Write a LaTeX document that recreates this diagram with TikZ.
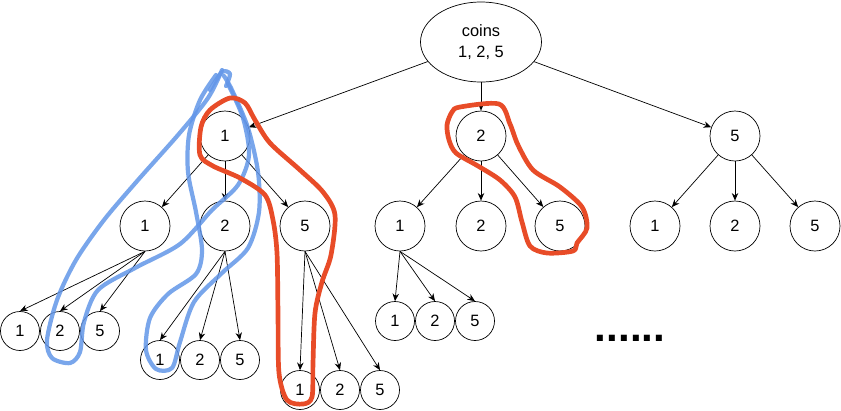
\documentclass[tikz,border=0pt]{standalone}
\usepackage{fontspec}
\setmainfont{Liberation Sans}
\usetikzlibrary{shapes.geometric, arrows.meta}
\definecolor{blueink}{RGB}{98,150,232}
\definecolor{redink}{RGB}{232,76,40}
\tikzset{
  coin/.style={draw, circle, minimum size=1.5cm, inner sep=0pt, line width=0.6pt, font=\fontsize{14}{17}\selectfont},
  leaf/.style={coin, minimum size=1.17cm},
  pick/.style={->, >={Stealth[length=6.5pt, width=5.5pt]}, line width=0.6pt},
  inkblue/.style={blueink, line width=3.6pt, opacity=0.85, line cap=round, line join=round},
  inkred/.style={redink, line width=4pt, line cap=round, line join=round},
}
\begin{document}
\begin{tikzpicture}[x=0.03cm, y=-0.03cm]
  \useasboundingbox (0,0) rectangle (841,410);

  \node[draw, ellipse, minimum width=3.63cm, minimum height=2.4cm, inner sep=0pt, line width=0.6pt,
        align=center, font=\fontsize{14}{18}\selectfont] (root) at (481,42) {coins\\1, 2, 5};

  % first coin
  \node[coin] (a) at (225,136) {1};
  \node[coin] (b) at (481,136) {2};
  \node[coin] (c) at (735,136) {5};

  % second coin
  \node[coin] (a1) at (145,226) {1};
  \node[coin] (a2) at (225,226) {2};
  \node[coin] (a5) at (305,226) {5};
  \node[coin] (b1) at (400,226) {1};
  \node[coin] (b2) at (481,226) {2};
  \node[coin] (b5) at (560,226) {5};
  \node[coin] (c1) at (655,226) {1};
  \node[coin] (c2) at (735,226) {2};
  \node[coin] (c5) at (815,226) {5};

  % third coin
  \node[leaf] (a11) at (20,331) {1};
  \node[leaf] (a12) at (60,331) {2};
  \node[leaf] (a15) at (100,331) {5};
  \node[leaf] (a21) at (160,360) {1};
  \node[leaf] (a22) at (200,360) {2};
  \node[leaf] (a25) at (240,360) {5};
  \node[leaf] (a51) at (300,390) {1};
  \node[leaf] (a52) at (340,390) {2};
  \node[leaf] (a55) at (380,390) {5};
  \node[leaf] (b11) at (395,321) {1};
  \node[leaf] (b12) at (435,321) {2};
  \node[leaf] (b15) at (475,321) {5};

  \node[font=\fontsize{36}{36}\selectfont\bfseries] (more) at (630,338) {......};

  \draw[pick] (root) -- (a);
  \draw[pick] (root) -- (b);
  \draw[pick] (root) -- (c);

  \foreach \p in {a,b,c}
    \foreach \k in {1,2,5}
      \draw[pick] (\p) -- (\p\k);

  \foreach \p in {a1,a2,a5,b1}
    \foreach \k in {1,2,5}
      \draw[pick] (\p.south) -- (\p\k.north);

  % hand drawn marks
  \draw[inkblue] plot[smooth] coordinates {(222,70) (208,98) (178,135) (138,180) (104,220) (76,260) (57,300) (47,340) (52,358) (70,363) (80,352) (84,322) (98,290) (135,268) (180,244) (212,210) (238,185) (249,155) (243,118) (228,84)};
  \draw[inkblue] plot[smooth] coordinates {(216,75) (200,100) (189,135) (188,172) (196,212) (202,250) (196,274) (168,294) (150,318) (146,350) (156,369) (172,368) (180,342) (194,302) (222,273) (248,248) (259,212) (258,172) (248,128) (232,90) (224,76)};
  \draw[inkblue] plot[smooth] coordinates {(210,90) (222,72) (230,74) (226,86)};

  \draw[inkred] plot[smooth cycle] coordinates {(230,98) (210,110) (201,127) (200,155) (213,166) (240,178) (265,195) (273,220) (277,253) (278,313) (279,373) (287,400) (303,404) (312,397) (313,363) (315,313) (322,282) (331,255) (335,215) (323,192) (300,170) (270,143) (255,120) (245,103)};
  \draw[inkred] plot[smooth cycle] coordinates {(460,107) (499,104) (510,124) (518,145) (533,170) (560,187) (582,207) (587,228) (577,243) (573,251) (547,253) (530,246) (522,222) (515,197) (500,180) (478,166) (456,153) (449,140) (447,125) (452,112)};
\end{tikzpicture}
\end{document}
